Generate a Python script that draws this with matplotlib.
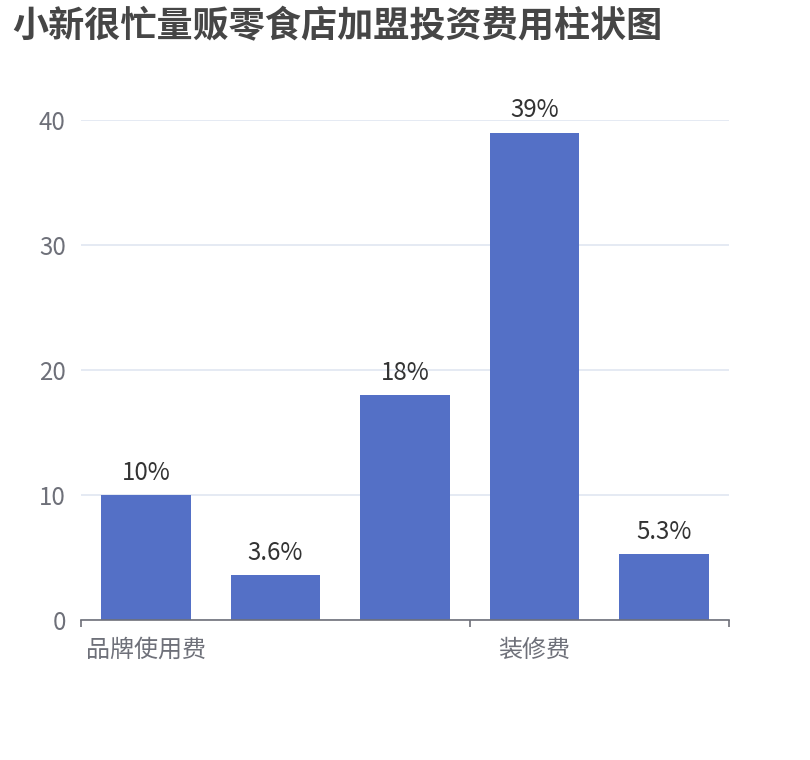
import matplotlib
matplotlib.use("Agg")
import matplotlib.pyplot as plt
import numpy as np

plt.rcParams['font.family'] = ['Noto Sans CJK SC', 'DejaVu Sans']

title = "小新很忙量贩零食店加盟投资费用柱状图"
categories = ["品牌使用费", "加盟费", "保证金", "装修费", "设备费"]
values = [10, 3.6, 18, 39, 5.3]
yticks = [0, 10, 20, 30, 40]

fig = plt.figure(figsize=(8.1, 7.6), dpi=100)
ax = fig.add_axes([81/810, 1 - 620/760, 648/810, 500/760])

x = np.arange(len(categories))
bars = ax.bar(x, values, width=0.69, color="#5470C6", zorder=3)
for xi, v in zip(x, values):
    ax.annotate(f"{v:g}%", (xi, v), xytext=(0, 6.5), textcoords="offset points",
                ha="center", va="bottom", fontsize=17.3, color="#333333", zorder=4)

ax.set_xlim(-0.5, len(categories) - 0.5)
ax.set_ylim(0, 40)
ax.set_yticks(yticks)
ax.set_yticklabels([str(t) for t in yticks])
ax.grid(axis="y", color="#E0E6F1", linewidth=1.2, zorder=0)
ax.tick_params(axis="y", length=0, pad=11, labelsize=17.3, labelcolor="#6E7079")

shown = list(range(0, len(categories), 3))
ax.set_xticks(shown)
ax.set_xticklabels([categories[i] for i in shown])
ax.tick_params(axis="x", which="major", length=0, pad=12, labelsize=17.3, labelcolor="#6E7079")
ax.set_xticks([i - 0.5 for i in shown] + [len(categories) - 0.5], minor=True)
ax.tick_params(axis="x", which="minor", length=5, width=1.2, color="#6E7079", direction="out")

for s in ["top", "right", "left"]:
    ax.spines[s].set_visible(False)
ax.spines["bottom"].set_color("#6E7079")
ax.spines["bottom"].set_linewidth(1.2)
ax.spines["bottom"].set_zorder(5)

fig.text(12/810, 1 - 27/760, title, fontsize=26, fontweight="bold", color="#464646",
         ha="left", va="center")

fig.savefig("out.png", dpi=100)
